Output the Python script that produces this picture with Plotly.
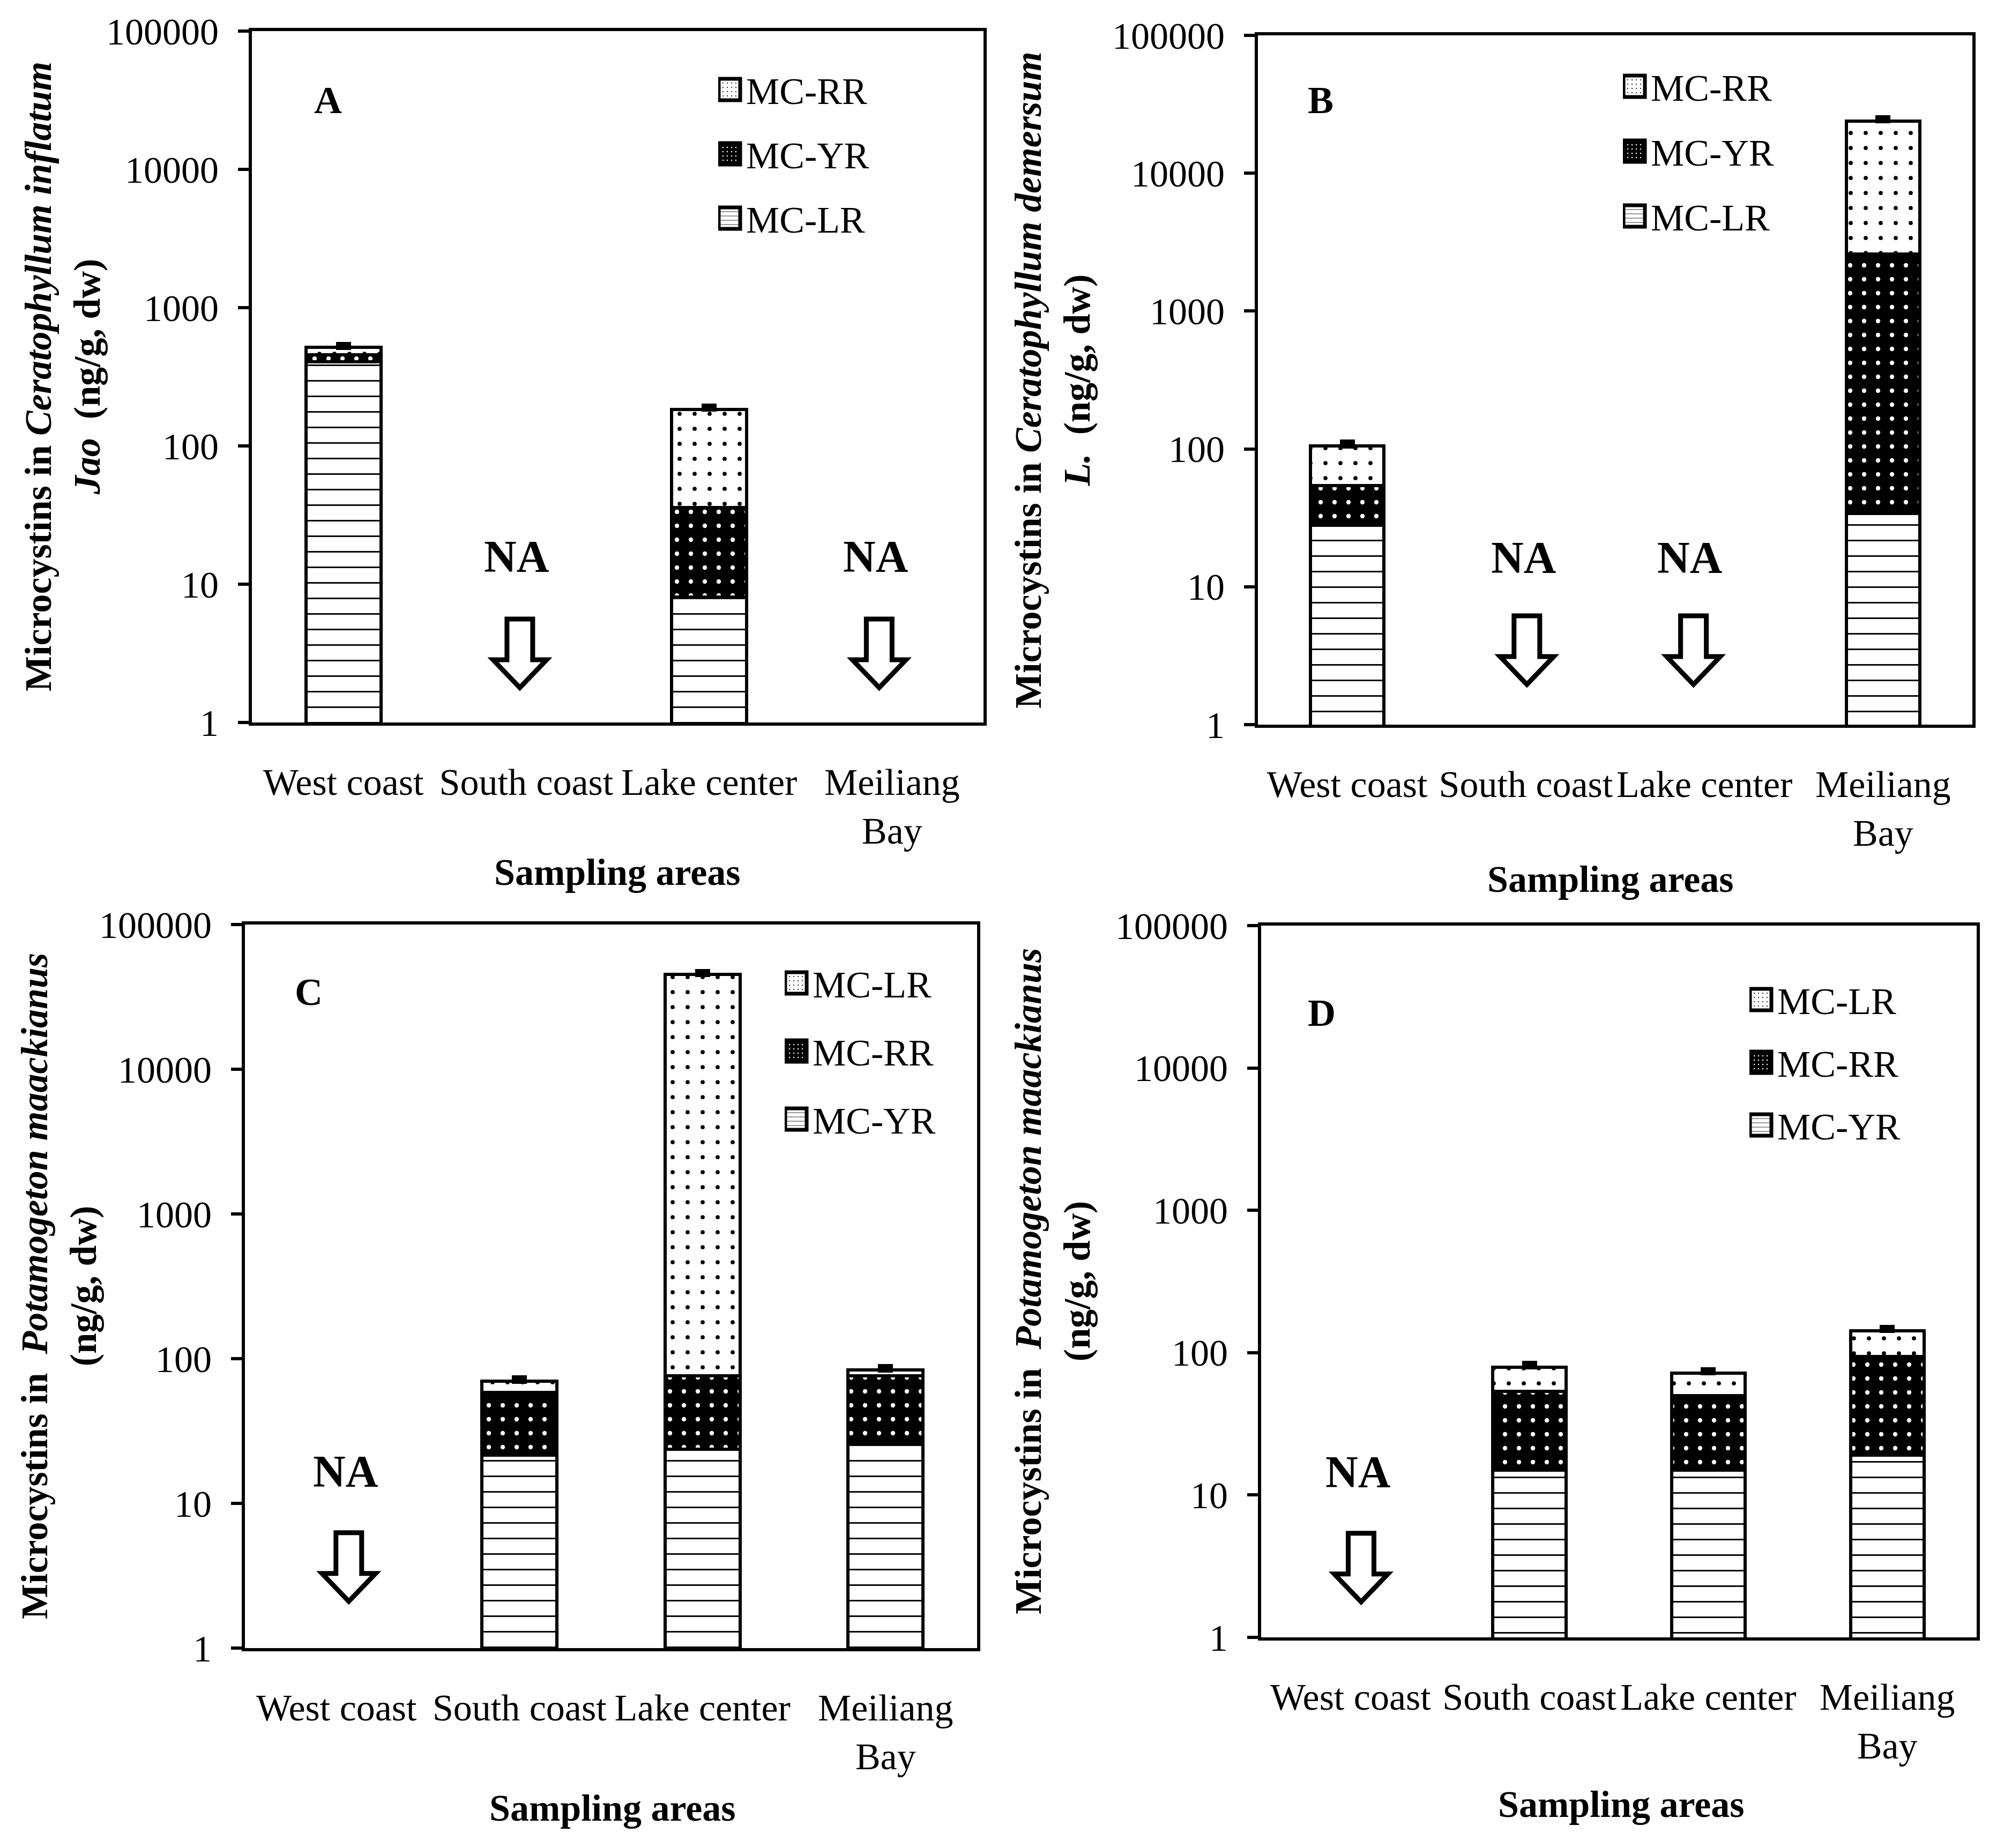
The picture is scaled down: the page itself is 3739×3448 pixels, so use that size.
import plotly.graph_objects as go

# ---------------- data ----------------
categories = ["West coast", "South coast", "Lake center", "Meiliang<br>Bay"]

# Panel A: Ceratophyllum inflatum Jao (stack: MC-LR, MC-YR, MC-RR)
a_lr = [405, None, 8.1, None]
a_yr = [50, None, 27.8, None]
a_rr = [60, None, 148, None]
a_err = [30, None, 11, None]
a_na = ["South coast", "Meiliang<br>Bay"]

# Panel B: Ceratophyllum demersum L. (stack: MC-LR, MC-YR, MC-RR)
b_lr = [28, None, None, 34]
b_yr = [26, None, None, 2570]
b_rr = [51, None, None, 21300]
b_err = [7, None, None, 1500]
b_na = ["South coast", "Lake center"]

# Panel C: Potamogeton maackianus (stack: MC-YR, MC-RR, MC-LR)
c_yr = [None, 21.5, 23.7, 26]
c_rr = [None, 36.7, 52.3, 50]
c_lr = [None, 11.6, 45000, 7.5]
c_err = [None, 4, 2500, 5]
c_na = ["West coast"]

# Panel D: Potamogeton maackianus (stack: MC-YR, MC-RR, MC-LR)
d_yr = [None, 15, 15, 19]
d_rr = [None, 38.5, 35, 75]
d_lr = [None, 25.5, 22, 49]
d_err = [None, 5, 4, 8]
d_na = ["West coast"]

y_tickvals = [1, 10, 100, 1000, 10000, 100000]
y_ticktext = ["1", "10", "100", "1000", "10000", "100000"]

# ---------------- styling ----------------
FONT = "Times New Roman, Liberation Serif, serif"
W, H, OFF = 3723, 3432, 8


def fx(p):
    return (p - OFF) / W


def fy(p):
    return 1 - (p - OFF) / H


dash_pat = dict(shape="-", fgcolor="black", bgcolor="white", size=29, solidity=0.1, fillmode="replace")
dark_pat = dict(shape=".", fgcolor="white", bgcolor="black", size=26, solidity=0.08, fillmode="replace")
dot_pat = dict(shape=".", fgcolor="black", bgcolor="white", size=28, solidity=0.06, fillmode="replace")

fig = go.Figure()


def add_panel(suffix, legend, series, err):
    xa = "x" + suffix
    ya = "y" + suffix
    n = len(series)
    for i, (name, vals, pat) in enumerate(series):
        kw = {}
        if i == n - 1:
            kw["error_y"] = dict(type="data", array=err, symmetric=False,
                                 arrayminus=[0] * len(err), color="black",
                                 thickness=9, width=14)
        fig.add_trace(go.Bar(
            x=categories, y=vals, name=name, xaxis=xa, yaxis=ya,
            legend=legend, legendgroup=legend + name, legendrank=10 * (n - i),
            marker=dict(color="white", line=dict(color="black", width=6), pattern=pat),
            **kw))


add_panel("", "legend", [("MC-LR", a_lr, dash_pat), ("MC-YR", a_yr, dark_pat), ("MC-RR", a_rr, dot_pat)], a_err)
add_panel("2", "legend2", [("MC-LR", b_lr, dash_pat), ("MC-YR", b_yr, dark_pat), ("MC-RR", b_rr, dot_pat)], b_err)
add_panel("3", "legend3", [("MC-YR", c_yr, dash_pat), ("MC-RR", c_rr, dark_pat), ("MC-LR", c_lr, dot_pat)], c_err)
add_panel("4", "legend4", [("MC-YR", d_yr, dash_pat), ("MC-RR", d_rr, dark_pat), ("MC-LR", d_lr, dot_pat)], d_err)

# panel boxes in page pixels: (left, right, top, bottom)
boxes = {
    "": (470, 1835, 58, 1348),
    "2": (2347, 3680, 66, 1352),
    "3": (457, 1823, 1725, 3075),
    "4": (2353, 3688, 1727, 3055),
}

layout = dict(
    width=W, height=H, margin=dict(l=0, r=0, t=0, b=0, autoexpand=False),
    paper_bgcolor="white", plot_bgcolor="white",
    barmode="stack", bargap=0.59,
    font=dict(family=FONT, size=70, color="black"),
    showlegend=True,
)

for s, (l, r, t, b) in boxes.items():
    layout["xaxis" + s] = dict(
        domain=[fx(l), fx(r)], anchor="y" + s, showline=True, mirror=True,
        linecolor="black", linewidth=6, ticks="", showgrid=False, automargin=False,
        tickfont=dict(size=70, family=FONT), ticklabelstandoff=45,
        categoryorder="array", categoryarray=categories, fixedrange=True)
    layout["yaxis" + s] = dict(
        domain=[fy(b), fy(t)], anchor="x" + s, type="log", range=[0, 5],
        showline=True, mirror=True, linecolor="black", linewidth=6, automargin=False,
        ticks="outside", ticklen=20, tickwidth=6, tickcolor="black",
        tickvals=y_tickvals, ticktext=y_ticktext, showgrid=False,
        tickfont=dict(size=70, family=FONT), ticklabelstandoff=22)

legend_pos = {"legend": (1340, 115, 26), "legend2": (3028, 109, 27),
              "legend3": (1464, 1782, 33), "legend4": (3264, 1813, 23)}
for lg, (lx, ly, gap) in legend_pos.items():
    layout[lg] = dict(x=fx(lx), y=fy(ly), xanchor="left", yanchor="top",
                      font=dict(size=70, family=FONT), bgcolor="rgba(0,0,0,0)",
                      traceorder="grouped", tracegroupgap=gap, itemwidth=42)

fig.update_layout(**layout)

ann = []
# panel letters (fraction of axes domain)
for s, letter, px_, py_ in [("", "A", 0.104, 0.90), ("2", "B", 0.088, 0.906),
                            ("3", "C", 0.087, 0.907), ("4", "D", 0.085, 0.877)]:
    ann.append(dict(text="<b>%s</b>" % letter, xref="x%s domain" % s, yref="y%s domain" % s,
                    x=px_, y=py_, xanchor="center", yanchor="middle", showarrow=False,
                    font=dict(size=72, family=FONT)))

# NA labels (y in log10 units) and hollow block arrows (pixel-sized shapes)
shapes = []
arrow_path = "M-24,64 L24,64 L24,-12 L50,-12 L0,-64 L-50,-12 L-24,-12 Z"
na_specs = [("", a_na, [-18, -30], 1.2, 0.50),
            ("2", b_na, [-4, -27], 1.21, 0.54),
            ("3", c_na, [17], 1.22, 0.56),
            ("4", d_na, [14], 1.16, 0.49)]
for s, cats, shifts, yna, yarr in na_specs:
    for c, sh in zip(cats, shifts):
        ann.append(dict(text="<b>NA</b>", xref="x" + s, yref="y" + s, x=c, y=yna,
                        xshift=sh, showarrow=False, font=dict(size=84, family=FONT)))
        shapes.append(dict(type="path", xref="x" + s, yref="y" + s,
                           xsizemode="pixel", ysizemode="pixel",
                           xanchor=categories.index(c) + (sh + 6) / 341.0,
                           yanchor=10 ** yarr, path=arrow_path,
                           line=dict(color="black", width=9), fillcolor="white"))

# y-axis titles (page pixel centres)
ytitles = [
    ((117, 703), "<b>Microcystins in <i>Ceratophyllum inflatum</i></b><br><b><i>Jao</i>\u00a0 (ng/g, dw)</b>"),
    ((1964, 709), "<b>Microcystins in <i>Ceratophyllum demersum</i></b><br><b><i>L.</i>\u00a0 (ng/g, dw)</b>"),
    ((110, 2400), "<b>Microcystins in\u00a0 <i>Potamogeton maackianus</i></b><br><b>(ng/g, dw)</b>"),
    ((1964, 2391), "<b>Microcystins in\u00a0 <i>Potamogeton maackianus</i></b><br><b>(ng/g, dw)</b>"),
]
for (cx, cy), txt in ytitles:
    ann.append(dict(text=txt, xref="paper", yref="paper", x=fx(cx), y=fy(cy),
                    xanchor="center", yanchor="middle", textangle=-90, showarrow=False,
                    font=dict(size=70, family=FONT)))

# x-axis titles
for cx, cy in [(1152, 1627), (3005, 1640), (1143, 3373), (3025, 3366)]:
    ann.append(dict(text="<b>Sampling areas</b>", xref="paper", yref="paper",
                    x=fx(cx), y=fy(cy), xanchor="center", yanchor="middle",
                    showarrow=False, font=dict(size=70, family=FONT)))

fig.update_layout(annotations=ann, shapes=shapes)

# enlarge the legend key boxes to match the reference's large swatches
post = """
var gd = document.getElementById('{plot_id}');
function bigKeys() {
  gd.querySelectorAll('.legendpoints path').forEach(function (p) {
    p.setAttribute('d', 'M20,20H-20V-20H20Z');
    p.setAttribute('transform', 'translate(21,0)');
    p.style.strokeWidth = '7px';
  });
}
setTimeout(bigKeys, 0);
setTimeout(bigKeys, 300);
if (gd.on) { gd.on('plotly_afterplot', function () { setTimeout(bigKeys, 0); }); }
"""
fig.write_html("out.html", post_script=post)
